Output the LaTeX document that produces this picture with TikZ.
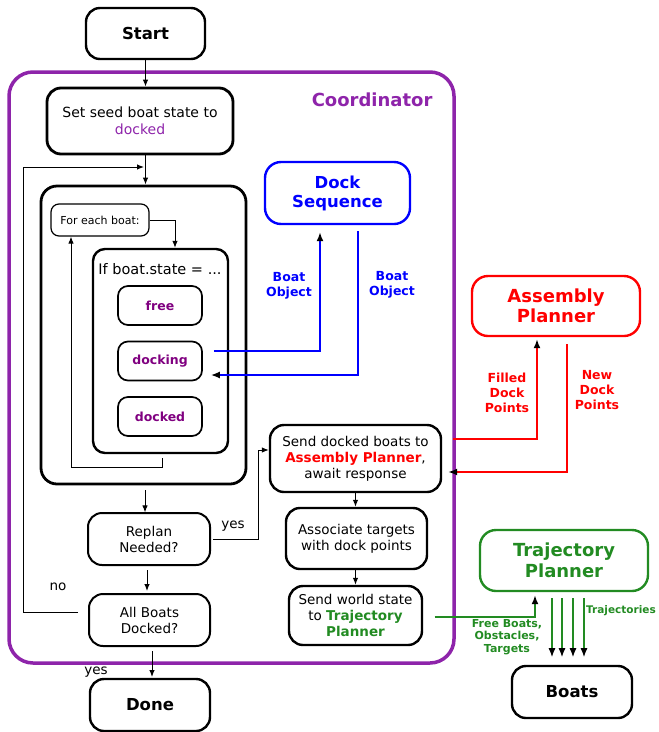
\documentclass[tikz,border=0pt]{standalone}
\usepackage{fontspec}
\setmainfont{DejaVu Sans}
\usetikzlibrary{arrows.meta,positioning}
\definecolor{coordpurple}{RGB}{142,36,170}
\definecolor{statepurple}{RGB}{128,0,128}
\definecolor{trajgreen}{RGB}{34,139,34}
\tikzset{
  stepbox/.style={draw, rounded corners=14pt, line width=2.4pt, align=center, font=\fontsize{13.5}{16}\selectfont},
  termbox/.style={stepbox, font=\fontsize{16.5}{19}\selectfont\bfseries},
  statebox/.style={draw, rounded corners=10pt, line width=1.7pt, minimum width=84pt, minimum height=39pt, text=statepurple, font=\fontsize{12.5}{15}\selectfont\bfseries},
  modbox/.style={draw, rounded corners=16pt, line width=2.4pt, align=center, font=\fontsize{18}{20.5}\selectfont\bfseries},
  conn/.style={-{Latex[length=7pt,width=5.5pt]}, line width=1pt},
  flow/.style={-{Latex[black,length=9pt,width=7pt]}, line width=1.6pt},
  lbl/.style={align=center, font=\fontsize{12.5}{15}\selectfont\bfseries},
  plain/.style={font=\fontsize{13.5}{16}\selectfont}
}
\begin{document}
\begin{tikzpicture}[x=1pt,y=-1pt]
    \useasboundingbox (0,0) rectangle (659,732);

    % coordinator frame
    \node[draw=coordpurple, line width=3.5pt, rounded corners=24pt, minimum width=445pt, minimum height=591pt] (coord) at (231.5,367.5) {};
    \node[anchor=east, text=coordpurple, font=\fontsize{18}{20}\selectfont\bfseries] (coordlbl) at (436,100) {Coordinator};

    \node[termbox, minimum width=119pt, minimum height=51pt] (start) at (145.5,33.5) {Start};
    \node[stepbox, line width=2.8pt, font=\fontsize{14}{16.5}\selectfont, minimum width=186pt, minimum height=66pt] (seed) at (140,121) {Set seed boat state to\\\textcolor{coordpurple}{docked}};
    \node[stepbox, line width=2.8pt, rounded corners=16pt, minimum width=205pt, minimum height=298pt] (loop) at (143.5,335) {};
    \node[draw, rounded corners=8pt, line width=1.2pt, minimum width=98pt, minimum height=32pt, font=\fontsize{11}{13}\selectfont] (foreach) at (100,220) {For each boat:};
    \node[stepbox, rounded corners=12pt, minimum width=135pt, minimum height=204pt] (state) at (160.5,351) {};
    \node[font=\fontsize{14.5}{17}\selectfont] (statelbl) at (160,269) {If boat.state = ...};
    \node[statebox] (free) at (160,305.5) {free};
    \node[statebox] (docking) at (160,361) {docking};
    \node[statebox] (docked) at (160,416.5) {docked};

    \node[modbox, draw=blue, text=blue, font=\fontsize{16.5}{19}\selectfont\bfseries, minimum width=145pt, minimum height=62pt] (dockseq) at (337.5,193) {Dock\\Sequence};
    \node[modbox, draw=red, text=red, minimum width=168pt, minimum height=60pt] (assembly) at (556,306) {Assembly\\Planner};
    \node[stepbox, minimum width=171pt, minimum height=67pt] (senddock) at (355.5,458.5) {Send docked boats to\\\textcolor{red}{\bfseries Assembly Planner},\\await response};
    \node[stepbox, minimum width=141pt, minimum height=61pt] (assoc) at (356.5,538.5) {Associate targets\\with dock points};
    \node[stepbox, minimum width=133pt, minimum height=59pt] (sendworld) at (355.5,615.5) {Send world state\\to \textcolor{trajgreen}{\bfseries Trajectory}\\\textcolor{trajgreen}{\bfseries Planner}};
    \node[modbox, draw=trajgreen, text=trajgreen, minimum width=168pt, minimum height=61pt] (traj) at (564,560.5) {Trajectory\\Planner};
    \node[termbox, minimum width=120pt, minimum height=52pt] (boats) at (572,692) {Boats};

    \node[stepbox, line width=2pt, minimum width=122pt, minimum height=52pt] (replan) at (149,539) {Replan\\Needed?};
    \node[stepbox, line width=2pt, minimum width=121pt, minimum height=52pt] (allboats) at (149.5,620) {All Boats\\Docked?};
    \node[termbox, minimum width=120pt, minimum height=52pt] (done) at (150,705) {Done};

    % main flow
    \coordinate (loopin) at (144,167);
    \coordinate (noleft) at (23,612);
    \coordinate (ret) at (71,467);
    \draw[conn] (start.south) -- (start.south |- seed.north);
    \draw[conn] (start.south |- seed.south) -- (start.south |- loop.north);
    \draw[conn] (foreach.east) -| ([xshift=14.5pt]state.north);
    \draw[conn] ([xshift=1.5pt,yshift=-4pt]state.south) |- (ret) -- (ret |- foreach.south);
    \draw[conn] ([xshift=1.5pt,yshift=-5pt]loop.south) -- ++(0,22);
    \draw[conn] ([xshift=-2pt,yshift=-4pt]replan.south) -- ++(0,21);
    \draw[conn] ([xshift=2.5pt,yshift=-4pt]allboats.south) -- ++(0,26);
    \draw[conn] ([xshift=-10pt,yshift=8pt]allboats.west) -| (noleft) |- (loopin);
    \draw[conn] ([xshift=2pt]replan.east) -| ([xshift=-10pt,yshift=8.5pt]senddock.west) -- ([yshift=8.5pt]senddock.west);
    \draw[conn] (senddock.south) -- (senddock.south |- assoc.north);
    \draw[conn] (senddock.south |- assoc.south) -- (senddock.south |- sendworld.north);

    \node[plain] (yes1) at (233,526) {yes};
    \node[plain] (no) at (58,587) {no};
    \node[plain] (yes2) at (96,672) {yes};

    % module links
    \draw[flow, blue] ([xshift=11pt,yshift=10pt]docking.east) -| ([xshift=-17.5pt,yshift=-7pt]dockseq.south);
    \draw[flow, blue] ([xshift=20.5pt,yshift=-6pt]dockseq.south) |- ([xshift=8pt,yshift=-14pt]docking.east);
    \draw[flow, red] ([xshift=11pt,yshift=19.5pt]senddock.east) -| ([xshift=-19pt,yshift=-2pt]assembly.south);
    \draw[flow, red] ([xshift=11pt,yshift=-7pt]assembly.south) |- ([xshift=6pt,yshift=-13.5pt]senddock.east);
    \draw[flow, trajgreen] ([xshift=11.5pt,yshift=-1.5pt]sendworld.east) -| ([xshift=-29pt,yshift=-3pt]traj.south);
    \foreach \dx in {-12,-2,9,20}
        \draw[flow, trajgreen, line width=1.3pt] ([xshift=\dx pt,yshift=-6pt]traj.south) -- ++(0,59);

    \node[lbl, text=blue] (objout) at (289,286) {Boat\\Object};
    \node[lbl, text=blue] (objin) at (392,285) {Boat\\Object};
    \node[lbl, text=red] (filled) at (507,393) {Filled\\Dock\\Points};
    \node[lbl, text=red] (newdock) at (597,390) {New\\Dock\\Points};
    \node[lbl, text=trajgreen, font=\fontsize{11}{12.7}\selectfont\bfseries] (freeboats) at (507,637) {Free Boats,\\Obstacles,\\Targets};
    \node[lbl, text=trajgreen, anchor=west, inner sep=1pt, font=\fontsize{10.5}{12}\selectfont\bfseries] (trajlbl) at (585,611) {Trajectories};
\end{tikzpicture}
\end{document}
